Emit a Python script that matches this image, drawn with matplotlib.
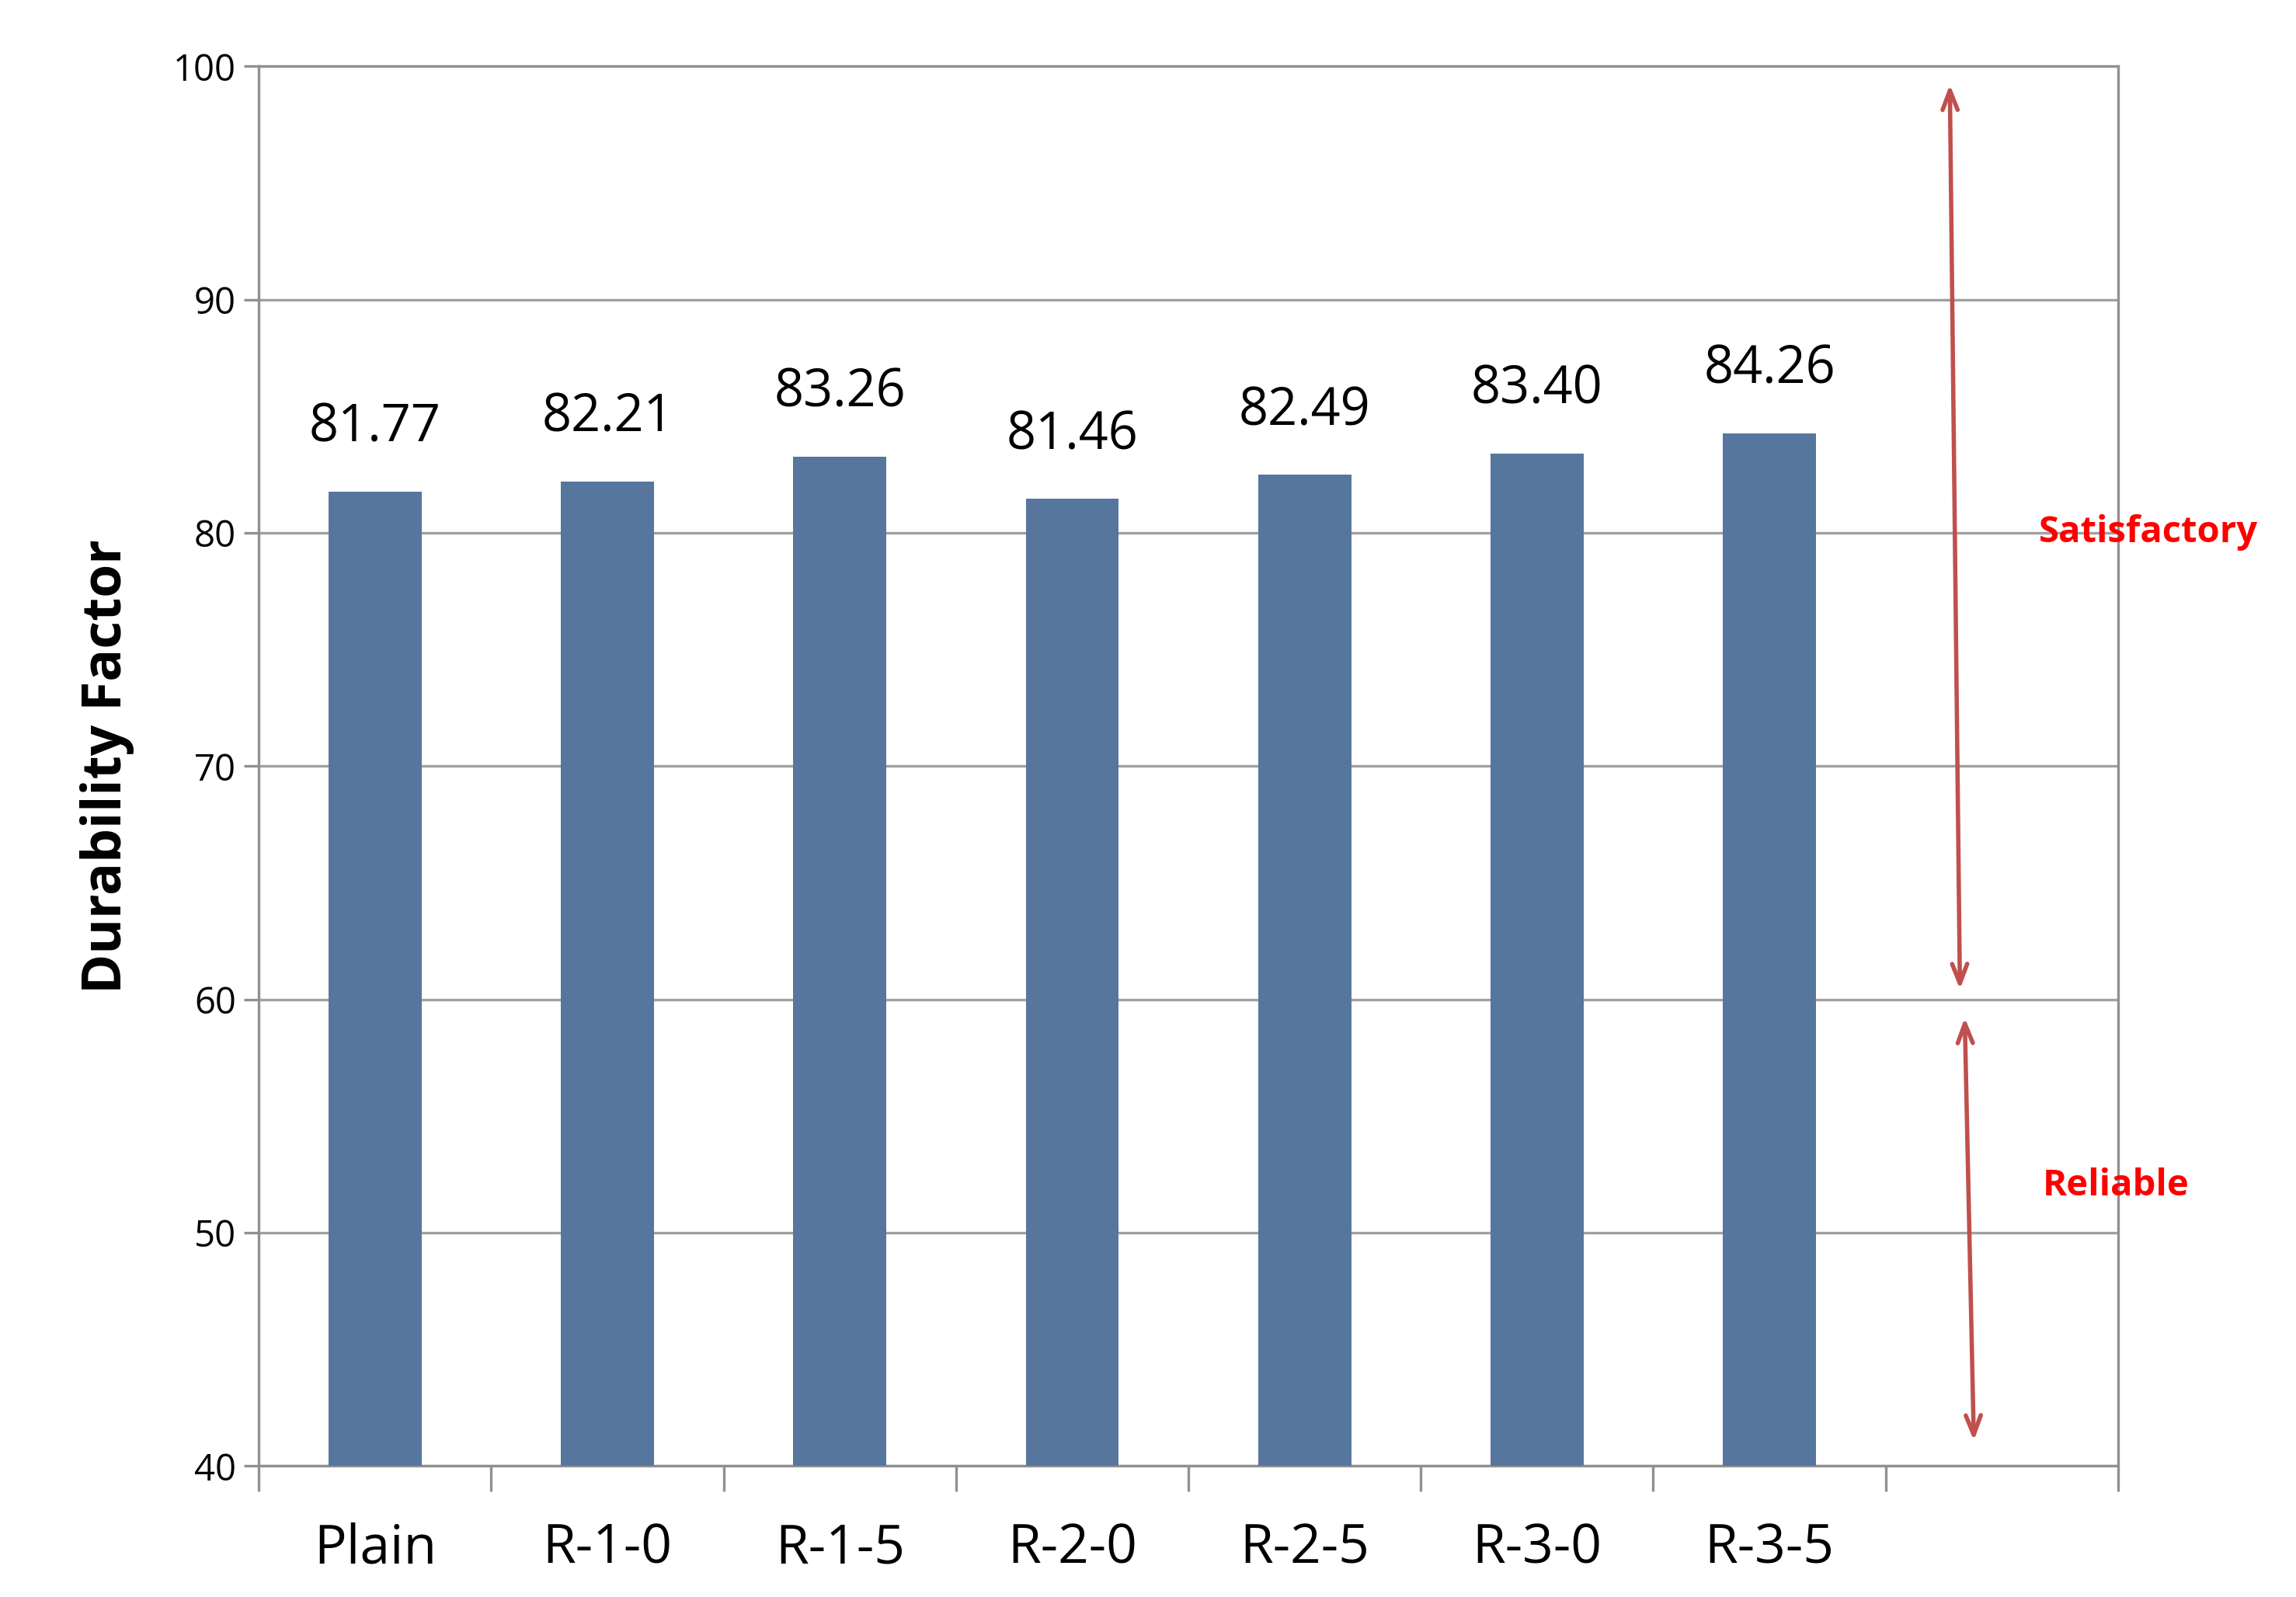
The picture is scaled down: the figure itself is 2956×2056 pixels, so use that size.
import matplotlib
matplotlib.use("Agg")
import matplotlib.pyplot as plt
import numpy as np

categories = ["Plain", "R-1-0", "R-1-5", "R-2-0", "R-2-5", "R-3-0", "R-3-5"]
values = [81.77, 82.21, 83.26, 81.46, 82.49, 83.40, 84.26]

plt.rcParams['font.family'] = ['Open Sans', 'DejaVu Sans']
fig = plt.figure(figsize=(14.78, 10.28), dpi=200)
ax = fig.add_axes([176/1561, 1-996/1085, (1440-176)/1561, (996-45)/1085])

x = np.arange(len(categories))
ax.bar(x, values, width=0.4, color="#56769d", zorder=3)
for xi, v in zip(x, values):
    ax.text(xi, v + 1.6, f"{v:.2f}", ha="center", va="bottom", fontsize=24)

ax.set_xlim(-0.5, 7.5)
ax.set_ylim(40, 100)
ax.set_yticks(range(40, 101, 10))
ax.yaxis.grid(True, color="#a0a0a0", lw=1.2, zorder=0)
ax.set_xticks(x)
ax.set_xticklabels(categories, fontsize=25)
ax.tick_params(axis="x", length=0, pad=26)
ax.set_xticks(np.arange(-0.5, 8, 1), minor=True)
ax.tick_params(axis="x", which="minor", length=12, color="#909090", width=1.2)
ax.tick_params(axis="y", labelsize=17, length=7, color="#909090", width=1.2)
for s in ax.spines.values():
    s.set_color("#909090")
    s.set_linewidth(1.2)
ax.set_ylabel("Durability Factor", fontsize=25, fontweight="bold", labelpad=18)

arrow_kw = dict(arrowstyle="<->,head_length=0.9,head_width=0.35", color="#c0504d", lw=2)
ax.annotate("", xy=(6.776, 99.4), xytext=(6.82, 60.25), arrowprops=arrow_kw, annotation_clip=False)
ax.annotate("", xy=(6.84, 59.4), xytext=(6.88, 40.9), arrowprops=arrow_kw, annotation_clip=False)
ax.text(7.63, 80, "Satisfactory", color="red", fontsize=17, fontweight="bold", ha="center", va="center", clip_on=False)
ax.text(7.49, 52, "Reliable", color="red", fontsize=17, fontweight="bold", ha="center", va="center", clip_on=False)

fig.savefig("out.png", dpi=200)
